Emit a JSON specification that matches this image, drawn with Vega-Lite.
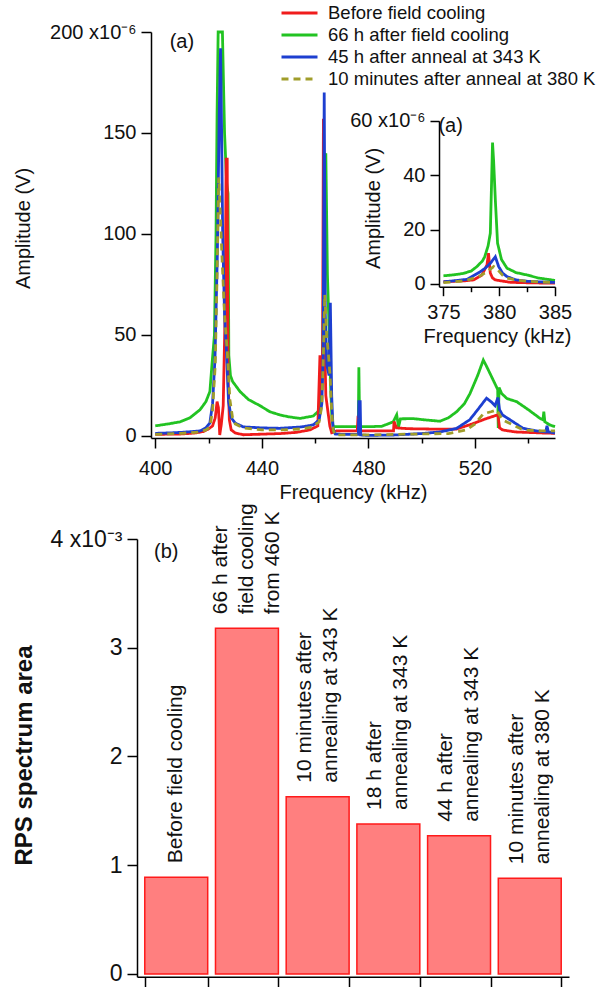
{
"$schema": "https://vega.github.io/schema/vega-lite/v6.json",
"width": 598, "height": 987, "padding": 0, "autosize": {"type": "none"},
"background": "white",
"config": {
  "view": {"stroke": null},
  "font": "Liberation Sans",
  "axis": {"grid": false, "domainColor": "#000", "tickColor": "#000", "labelColor": "#111", "titleColor": "#111",
    "labelFont": "Liberation Sans", "titleFont": "Liberation Sans", "labelFontSize": 20, "titleFontSize": 20,
    "titleFontWeight": "normal", "domainWidth": 1.5, "tickWidth": 1.5, "tickSize": 10, "labelFlush": false,
    "labelOverlap": false, "labelPadding": 5}
},
"datasets": {
  "spec": [
{"s":"G","f":400,"v":5},{"s":"G","f":405,"v":6},{"s":"G","f":409.3,"v":7},{"s":"G","f":413,"v":9},{"s":"G","f":416.8,"v":13},{"s":"G","f":419,"v":17},{"s":"G","f":420.5,"v":22},{"s":"G","f":421.2,"v":34},{"s":"G","f":422.2,"v":50},{"s":"G","f":422.8,"v":100},{"s":"G","f":423.2,"v":160},{"s":"G","f":423.6,"v":200},{"s":"G","f":425.2,"v":200},{"s":"G","f":426,"v":150},{"s":"G","f":426.8,"v":125},{"s":"G","f":427.3,"v":120},{"s":"G","f":427.6,"v":40},{"s":"G","f":428.2,"v":30},{"s":"G","f":429,"v":27},{"s":"G","f":431.8,"v":22},{"s":"G","f":435,"v":18},{"s":"G","f":439.3,"v":15},{"s":"G","f":443,"v":12},{"s":"G","f":446.8,"v":10.4},{"s":"G","f":450,"v":9.5},{"s":"G","f":454.3,"v":8.7},{"s":"G","f":459.3,"v":9.9},{"s":"G","f":461,"v":12},{"s":"G","f":461.8,"v":14.5},{"s":"G","f":462.5,"v":25},{"s":"G","f":463,"v":60},{"s":"G","f":463.5,"v":130},{"s":"G","f":464,"v":140},{"s":"G","f":464.6,"v":80},{"s":"G","f":465.3,"v":50},{"s":"G","f":465.8,"v":25},{"s":"G","f":466.3,"v":8},{"s":"G","f":466.8,"v":4.6},{"s":"G","f":470,"v":4.6},{"s":"G","f":476.2,"v":4.6},{"s":"G","f":476.4,"v":34},{"s":"G","f":476.7,"v":4.6},{"s":"G","f":480,"v":4.6},{"s":"G","f":485,"v":4.8},{"s":"G","f":489.3,"v":7},{"s":"G","f":490.6,"v":10.5},{"s":"G","f":491.3,"v":4.5},{"s":"G","f":492,"v":8.5},{"s":"G","f":496.8,"v":8.6},{"s":"G","f":501,"v":8},{"s":"G","f":506.8,"v":7.3},{"s":"G","f":510,"v":9},{"s":"G","f":513.1,"v":12},{"s":"G","f":516,"v":16},{"s":"G","f":518.1,"v":21},{"s":"G","f":521,"v":30},{"s":"G","f":523.1,"v":37.6},{"s":"G","f":524.5,"v":34},{"s":"G","f":526.8,"v":27.7},{"s":"G","f":528.5,"v":23},{"s":"G","f":528.7,"v":4},{"s":"G","f":529,"v":24},{"s":"G","f":530,"v":21},{"s":"G","f":532,"v":18.5},{"s":"G","f":535.6,"v":17},{"s":"G","f":540,"v":13},{"s":"G","f":544.4,"v":8.7},{"s":"G","f":545.5,"v":8},{"s":"G","f":545.8,"v":12},{"s":"G","f":546.2,"v":7},{"s":"G","f":548,"v":5.5},{"s":"G","f":550,"v":4.6},
{"s":"R","f":400,"v":0.8},{"s":"R","f":405,"v":0.9},{"s":"R","f":410,"v":1.0},{"s":"R","f":415,"v":1.5},{"s":"R","f":418,"v":2.2},{"s":"R","f":420,"v":3.5},{"s":"R","f":421.5,"v":5},{"s":"R","f":422.5,"v":9},{"s":"R","f":423.2,"v":17},{"s":"R","f":423.7,"v":14},{"s":"R","f":424.2,"v":0.5},{"s":"R","f":424.8,"v":6},{"s":"R","f":425.5,"v":15},{"s":"R","f":426.2,"v":60},{"s":"R","f":426.6,"v":137},{"s":"R","f":427.0,"v":137},{"s":"R","f":427.3,"v":30},{"s":"R","f":427.8,"v":8},{"s":"R","f":428.5,"v":3},{"s":"R","f":430,"v":1.5},{"s":"R","f":433,"v":0.6},{"s":"R","f":440,"v":0.9},{"s":"R","f":447,"v":1.2},{"s":"R","f":453,"v":1.8},{"s":"R","f":458,"v":3},{"s":"R","f":461,"v":5},{"s":"R","f":461.8,"v":40},{"s":"R","f":462.4,"v":20},{"s":"R","f":462.8,"v":45},{"s":"R","f":463.1,"v":157},{"s":"R","f":463.4,"v":60},{"s":"R","f":464,"v":20},{"s":"R","f":464.8,"v":12},{"s":"R","f":465.5,"v":5},{"s":"R","f":466.2,"v":1.6},{"s":"R","f":468,"v":2.5},{"s":"R","f":475.8,"v":2.5},{"s":"R","f":476.1,"v":10},{"s":"R","f":476.4,"v":2.5},{"s":"R","f":480,"v":2.5},{"s":"R","f":485,"v":2.5},{"s":"R","f":489.4,"v":2.5},{"s":"R","f":489.6,"v":7.2},{"s":"R","f":490.5,"v":4},{"s":"R","f":495,"v":3.6},{"s":"R","f":505,"v":3.4},{"s":"R","f":513,"v":3.4},{"s":"R","f":519,"v":6},{"s":"R","f":524,"v":8.5},{"s":"R","f":528.6,"v":10.5},{"s":"R","f":529.2,"v":4},{"s":"R","f":530.3,"v":3},{"s":"R","f":535,"v":2},{"s":"R","f":545,"v":1.5},{"s":"R","f":550,"v":1.3},
{"s":"B","f":400,"v":1.3},{"s":"B","f":405,"v":1.5},{"s":"B","f":410,"v":1.8},{"s":"B","f":416.8,"v":2.5},{"s":"B","f":419,"v":4},{"s":"B","f":420.5,"v":6.5},{"s":"B","f":421.5,"v":16},{"s":"B","f":422.4,"v":38},{"s":"B","f":423.3,"v":90},{"s":"B","f":424,"v":160},{"s":"B","f":424.5,"v":192},{"s":"B","f":424.9,"v":150},{"s":"B","f":425.3,"v":100},{"s":"B","f":426,"v":60},{"s":"B","f":426.7,"v":42},{"s":"B","f":427.5,"v":17},{"s":"B","f":428.5,"v":9},{"s":"B","f":430,"v":6.4},{"s":"B","f":433,"v":4.5},{"s":"B","f":440,"v":4},{"s":"B","f":446.8,"v":3.8},{"s":"B","f":455,"v":4.5},{"s":"B","f":459.3,"v":5.5},{"s":"B","f":461.5,"v":8},{"s":"B","f":462.5,"v":16},{"s":"B","f":463,"v":40},{"s":"B","f":463.4,"v":170},{"s":"B","f":463.8,"v":60},{"s":"B","f":464.4,"v":35},{"s":"B","f":465.2,"v":30},{"s":"B","f":465.7,"v":66},{"s":"B","f":466.2,"v":20},{"s":"B","f":466.7,"v":4},{"s":"B","f":467.5,"v":1},{"s":"B","f":470,"v":0.8},{"s":"B","f":476.2,"v":0.8},{"s":"B","f":476.4,"v":17},{"s":"B","f":476.9,"v":17},{"s":"B","f":477.1,"v":0.5},{"s":"B","f":480,"v":0.3},{"s":"B","f":490,"v":0.5},{"s":"B","f":500,"v":1.2},{"s":"B","f":506.8,"v":2},{"s":"B","f":513,"v":3.7},{"s":"B","f":518,"v":8},{"s":"B","f":521,"v":13},{"s":"B","f":524.3,"v":18.7},{"s":"B","f":526,"v":17},{"s":"B","f":527.5,"v":15},{"s":"B","f":528.6,"v":19},{"s":"B","f":529.2,"v":13},{"s":"B","f":530.3,"v":10.4},{"s":"B","f":534.2,"v":7.1},{"s":"B","f":538,"v":3.8},{"s":"B","f":543,"v":2.5},{"s":"B","f":546.5,"v":2},{"s":"B","f":547,"v":5},{"s":"B","f":547.5,"v":2},{"s":"B","f":550,"v":1.5},
{"s":"O","f":400,"v":0.8},{"s":"O","f":405,"v":1},{"s":"O","f":410,"v":1.3},{"s":"O","f":416.8,"v":2},{"s":"O","f":419,"v":3},{"s":"O","f":420.5,"v":4.5},{"s":"O","f":421.5,"v":12.6},{"s":"O","f":422.5,"v":35},{"s":"O","f":423.2,"v":80},{"s":"O","f":423.8,"v":128},{"s":"O","f":424.4,"v":110},{"s":"O","f":425,"v":90},{"s":"O","f":426,"v":60},{"s":"O","f":427,"v":42},{"s":"O","f":428,"v":18},{"s":"O","f":429,"v":9},{"s":"O","f":430,"v":6},{"s":"O","f":433,"v":4},{"s":"O","f":440,"v":3},{"s":"O","f":448,"v":3},{"s":"O","f":455,"v":3.5},{"s":"O","f":459,"v":4.5},{"s":"O","f":461.5,"v":7},{"s":"O","f":462.5,"v":15},{"s":"O","f":463.2,"v":45},{"s":"O","f":463.6,"v":70},{"s":"O","f":464.3,"v":50},{"s":"O","f":465,"v":40},{"s":"O","f":465.6,"v":30},{"s":"O","f":466.2,"v":12},{"s":"O","f":466.8,"v":3},{"s":"O","f":467.5,"v":0.5},{"s":"O","f":470,"v":0.5},{"s":"O","f":480,"v":0.5},{"s":"O","f":490,"v":0.8},{"s":"O","f":500,"v":1},{"s":"O","f":510,"v":1.2},{"s":"O","f":516.8,"v":3},{"s":"O","f":520,"v":6},{"s":"O","f":523.1,"v":11},{"s":"O","f":526,"v":12},{"s":"O","f":528.1,"v":12.9},{"s":"O","f":530.3,"v":8},{"s":"O","f":534.2,"v":5.5},{"s":"O","f":538,"v":3},{"s":"O","f":545,"v":2.5},{"s":"O","f":550,"v":2.5}
  ],
  "inset": [
{"s":"G","f":375,"v":3},{"s":"G","f":376,"v":3.4},{"s":"G","f":376.8,"v":3.9},{"s":"G","f":377.5,"v":4.8},{"s":"G","f":378,"v":6.4},{"s":"G","f":378.5,"v":8.5},{"s":"G","f":378.7,"v":10},{"s":"G","f":379,"v":14},{"s":"G","f":379.2,"v":18.6},{"s":"G","f":379.3,"v":35},{"s":"G","f":379.4,"v":52},{"s":"G","f":379.5,"v":45},{"s":"G","f":379.65,"v":31},{"s":"G","f":379.85,"v":15},{"s":"G","f":380.2,"v":9},{"s":"G","f":380.7,"v":5.8},{"s":"G","f":381.5,"v":4.2},{"s":"G","f":382.5,"v":3.3},{"s":"G","f":383.5,"v":2.2},{"s":"G","f":385,"v":1.3},
{"s":"R","f":375,"v":0.8},{"s":"R","f":377,"v":1.2},{"s":"R","f":377.7,"v":1.5},{"s":"R","f":378.45,"v":3.3},{"s":"R","f":378.9,"v":7},{"s":"R","f":379.04,"v":11.3},{"s":"R","f":379.2,"v":4},{"s":"R","f":379.4,"v":2.2},{"s":"R","f":379.65,"v":1.5},{"s":"R","f":381,"v":0.6},{"s":"R","f":383,"v":0.4},{"s":"R","f":385,"v":0.3},
{"s":"B","f":375,"v":0.8},{"s":"B","f":376,"v":1.2},{"s":"B","f":377.1,"v":1.7},{"s":"B","f":378.3,"v":4.5},{"s":"B","f":378.8,"v":6},{"s":"B","f":379.2,"v":7.6},{"s":"B","f":379.65,"v":10},{"s":"B","f":379.95,"v":6.4},{"s":"B","f":380.3,"v":4},{"s":"B","f":380.7,"v":2.7},{"s":"B","f":381.5,"v":1.5},{"s":"B","f":382.5,"v":1},{"s":"B","f":384,"v":0.7},{"s":"B","f":385,"v":0.6},
{"s":"O","f":375,"v":0.5},{"s":"O","f":377,"v":1.2},{"s":"O","f":378.3,"v":3},{"s":"O","f":379,"v":4.8},{"s":"O","f":379.5,"v":6.4},{"s":"O","f":379.85,"v":5.3},{"s":"O","f":380.3,"v":3.2},{"s":"O","f":380.7,"v":2.2},{"s":"O","f":381.5,"v":1.4},{"s":"O","f":382.5,"v":1},{"s":"O","f":385,"v":0.5}
  ],
  "bars": [
    {"cat":1,"area":0.89,"label":["Before field cooling"]},
    {"cat":2,"area":3.18,"label":["66 h after","field cooling","from 460 K"]},
    {"cat":3,"area":1.63,"label":["10 minutes after","annealing at 343 K"]},
    {"cat":4,"area":1.38,"label":["18 h after","annealing at 343 K"]},
    {"cat":5,"area":1.27,"label":["44 h  after","annealing at 343 K"]},
    {"cat":6,"area":0.88,"label":["10 minutes after","annealing at 380  K"]}
  ]
},
"layer": [
  {
    "data": {"name": "spec"},
    "encoding": {
      "x": {"field": "f", "type": "quantitative", "scale": {"domain": [398.4, 550], "range": [151, 555], "nice": false, "zero": false},
        "axis": {"orient": "bottom", "offset": -549, "values": [400, 440, 480, 520], "labelPadding": 10, "title": "Frequency (kHz)", "titlePadding": 4}},
      "y": {"field": "v", "type": "quantitative", "scale": {"domain": [-1, 200], "range": [438, 32], "nice": false, "zero": false},
        "axis": {"orient": "left", "offset": -151, "values": [0, 50, 100, 150, 200], "labelExpr": "datum.value == 200 ? '200 x10⁻⁶' : datum.label", "title": "Amplitude (V)", "titleX": -118, "titleY": 228}}
    },
    "layer": [
      {
        "encoding": {
          "color": {"field": "s", "type": "nominal",
            "scale": {"domain": ["R", "G", "B", "O"], "range": ["#f01c1c", "#22c322", "#1d3fd0", "#a09d2a"]},
            "legend": {"title": null, "orient": "none", "legendX": 280, "legendY": 2, "symbolType": "stroke", "symbolSize": 1296, "symbolStrokeWidth": 3, "clipHeight": 22, "labelFontSize": 18.5, "labelFont": "Liberation Sans", "labelColor": "#111", "labelLimit": 400, "rowPadding": 0, "labelOffset": 9, "padding": 0,
              "labelExpr": "datum.value == 'R' ? 'Before field cooling' : datum.value == 'G' ? '66 h after field cooling' : datum.value == 'B' ? '45 h after anneal at 343 K' : '10 minutes after anneal at 380 K'"}},
          "strokeDash": {"field": "s", "type": "nominal",
            "scale": {"domain": ["R", "G", "B", "O"], "range": [[1, 0], [1, 0], [1, 0], [7, 5]]},
            "legend": {"title": null, "orient": "none", "legendX": 280, "legendY": 2, "symbolType": "stroke", "symbolSize": 1296, "symbolStrokeWidth": 3, "clipHeight": 22, "labelFontSize": 18.5, "labelFont": "Liberation Sans", "labelColor": "#111", "labelLimit": 400, "rowPadding": 0, "labelOffset": 9, "padding": 0,
              "labelExpr": "datum.value == 'R' ? 'Before field cooling' : datum.value == 'G' ? '66 h after field cooling' : datum.value == 'B' ? '45 h after anneal at 343 K' : '10 minutes after anneal at 380 K'"}}
        },
        "layer": [
          {"transform": [{"filter": {"field": "s", "equal": "G"}}], "mark": {"type": "line", "strokeWidth": 2.8}},
          {"transform": [{"filter": {"field": "s", "equal": "R"}}], "mark": {"type": "line", "strokeWidth": 2.8}},
          {"transform": [{"filter": {"field": "s", "equal": "B"}}], "mark": {"type": "line", "strokeWidth": 2.8}},
          {"transform": [{"filter": {"field": "s", "equal": "O"}}], "mark": {"type": "line", "strokeWidth": 2.8}}
        ]
      },
      {"data": {"values": [{"f": 410, "v": 195, "t": "(a)"}]}, "mark": {"type": "text", "fontSize": 20, "color": "#111"}, "encoding": {"text": {"field": "t", "type": "nominal"}}}
    ]
  },
  {
    "data": {"values": [{"f": 420}]},
    "mark": {"type": "point", "opacity": 0},
    "encoding": {"x": {"field": "f", "type": "quantitative", "scale": {"domain": [398.4, 550], "range": [151, 555], "nice": false, "zero": false},
      "axis": {"orient": "bottom", "offset": -549, "values": [420, 460, 500, 540], "tickSize": 5, "labels": false, "domain": false, "title": null}}}
  },
  {
    "data": {"name": "inset"},
    "encoding": {
      "x": {"field": "f", "type": "quantitative", "scale": {"domain": [374.6, 385], "range": [439, 555], "nice": false, "zero": false},
        "axis": {"orient": "bottom", "offset": -700.3, "values": [375, 380, 385], "tickSize": 9, "labelPadding": 7, "labelFontSize": 20, "title": "Frequency (kHz)", "titlePadding": 4}},
      "y": {"field": "v", "type": "quantitative", "scale": {"domain": [-1, 60], "range": [286.7, 120.8], "nice": false, "zero": false},
        "axis": {"orient": "left", "offset": -439, "values": [0, 20, 40, 60], "tickSize": 9, "labelFontSize": 20, "labelExpr": "datum.value == 60 ? '60 x10⁻⁶' : datum.label", "title": "Amplitude (V)", "titleX": -56, "titleY": 208}}
    },
    "layer": [
      {
        "encoding": {
          "color": {"field": "s", "type": "nominal", "scale": {"domain": ["R", "G", "B", "O"], "range": ["#f01c1c", "#22c322", "#1d3fd0", "#a09d2a"]}, "legend": null},
          "strokeDash": {"field": "s", "type": "nominal", "scale": {"domain": ["R", "G", "B", "O"], "range": [[1, 0], [1, 0], [1, 0], [7, 5]]}, "legend": null}
        },
        "layer": [
          {"transform": [{"filter": {"field": "s", "equal": "G"}}], "mark": {"type": "line", "strokeWidth": 2.8}},
          {"transform": [{"filter": {"field": "s", "equal": "R"}}], "mark": {"type": "line", "strokeWidth": 2.8}},
          {"transform": [{"filter": {"field": "s", "equal": "B"}}], "mark": {"type": "line", "strokeWidth": 2.8}},
          {"transform": [{"filter": {"field": "s", "equal": "O"}}], "mark": {"type": "line", "strokeWidth": 2.8}}
        ]
      },
      {"data": {"values": [{"f": 375.64, "v": 58.1, "t": "(a)"}]}, "mark": {"type": "text", "fontSize": 20, "color": "#111"}, "encoding": {"text": {"field": "t", "type": "nominal"}}}
    ]
  },
  {
    "data": {"values": [{"f": 377.5}]},
    "mark": {"type": "point", "opacity": 0},
    "encoding": {"x": {"field": "f", "type": "quantitative", "scale": {"domain": [374.6, 385], "range": [439, 555], "nice": false, "zero": false},
      "axis": {"orient": "bottom", "offset": -700.3, "values": [377.5, 382.5], "tickSize": 5, "labels": false, "domain": false, "title": null}}}
  },
  {
    "data": {"name": "bars"},
    "encoding": {
      "x": {"field": "cat", "type": "ordinal", "scale": {"range": [137, 569], "paddingInner": 0.11, "paddingOuter": 0.11},
        "axis": {"orient": "bottom", "offset": -10.3, "labels": false, "tickBand": "extent", "tickSize": 10, "title": null}},
      "y": {"field": "area", "type": "quantitative", "scale": {"domain": [-0.025, 4], "range": [976.7, 539], "nice": false, "zero": false},
        "axis": {"orient": "left", "offset": -137, "values": [0, 1, 2, 3, 4], "labelFontSize": 23, "labelExpr": "datum.value == 4 ? '4 x10⁻³' : datum.label", "title": "RPS spectrum area", "titleFontWeight": "bold", "titleFontSize": 24, "titleX": -101, "titleY": 755}}
    },
    "layer": [
      {"mark": {"type": "bar", "fill": "#ff7f7f", "stroke": "#ff1a1a", "strokeWidth": 1.5}, "encoding": {"y2": {"datum": 0}}},
      {"transform": [{"filter": "length(datum.label) == 1"}], "mark": {"type": "text", "angle": 270, "align": "left", "baseline": "middle", "dx": 14, "dy": 0, "fontSize": 21, "lineHeight": 26, "color": "#111"}, "encoding": {"text": {"field": "label", "type": "nominal"}}},
      {"transform": [{"filter": "length(datum.label) == 2"}], "mark": {"type": "text", "angle": 270, "align": "left", "baseline": "middle", "dx": 14, "dy": -13, "fontSize": 21, "lineHeight": 26, "color": "#111"}, "encoding": {"text": {"field": "label", "type": "nominal"}}},
      {"transform": [{"filter": "length(datum.label) == 3"}], "mark": {"type": "text", "angle": 270, "align": "left", "baseline": "middle", "dx": 14, "dy": -26, "fontSize": 21, "lineHeight": 26, "color": "#111"}, "encoding": {"text": {"field": "label", "type": "nominal"}}},
      {"data": {"values": [{"cat": 1, "area": 3.88, "t": "(b)"}]}, "mark": {"type": "text", "fontSize": 20, "dx": -10, "color": "#111"}, "encoding": {"text": {"field": "t", "type": "nominal"}}}
    ]
  }
],
"resolve": {"scale": {"x": "independent", "y": "independent"}, "axis": {"x": "independent", "y": "independent"}}
}
